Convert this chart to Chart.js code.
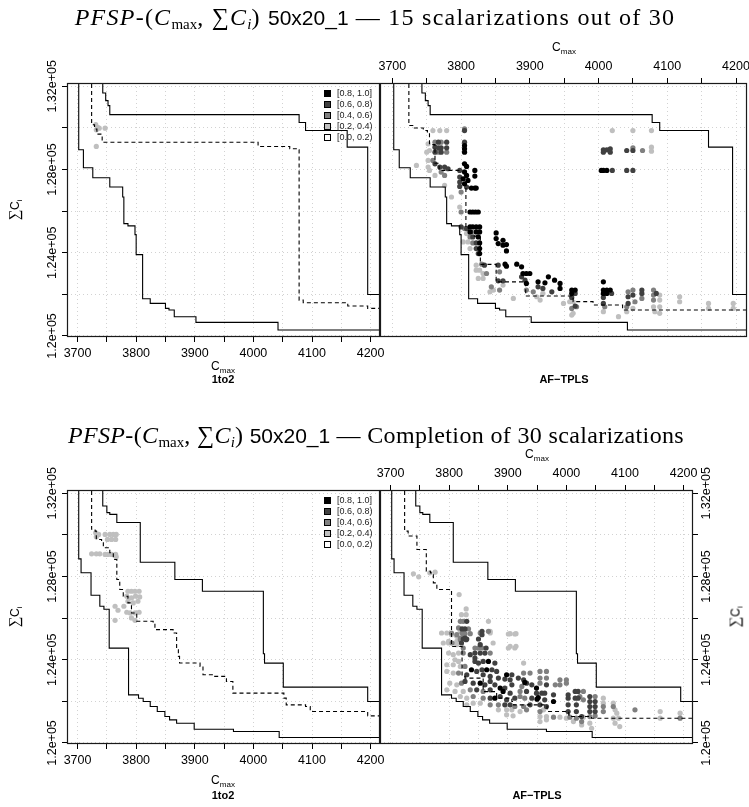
<!DOCTYPE html>
<html>
<head>
<meta charset="utf-8">
<script src="https://cdn.jsdelivr.net/npm/chart.js@4.4.1/dist/chart.umd.min.js"></script>
<style>
  html, body { margin: 0; padding: 0; background: #fff; }
  #page { position: relative; width: 749px; height: 807px; overflow: hidden; font-family: "Liberation Sans", Arial, sans-serif; color: #000; }
  #page canvas { position: absolute; left: 0; top: 0; }
  .lbl { position: absolute; white-space: nowrap; transform: translate(-50%, -50%); line-height: 1; }
  .title { font-family: "Liberation Serif", "DejaVu Serif", serif; font-size: 24px; }
  .title sub { font-size: 15px; vertical-align: -4px; letter-spacing: 0; }
  .title .tt { font-family: "Liberation Sans", sans-serif; font-size: 21px; letter-spacing: 0; }
  .axt { font-size: 12px; }
  .axt sub { font-size: 8px; vertical-align: -3px; }
  .axt .sig { font-family: "Liberation Serif", serif; font-size: 15px; }
  .alg { font-size: 11px; font-weight: bold; }
  .rot { transform: translate(-50%, -50%) rotate(-90deg); }
  .legend { position: absolute; font-size: 9px; color: #222; }
  .legend .row { height: 11px; line-height: 11px; display: flex; align-items: center; }
  .legend .sq { display: inline-block; width: 5px; height: 5px; border: 1px solid #000; margin-right: 6px; }
</style>
</head>
<body>
<div id="page">
  <canvas id="tl" width="749" height="807"></canvas>
  <canvas id="tr" width="749" height="807"></canvas>
  <canvas id="bl" width="749" height="807"></canvas>
  <canvas id="br" width="749" height="807"></canvas>

  <div class="lbl title" style="left:375px; top:18px; letter-spacing:1.25px"><i>PFSP</i>-(<i>C</i><sub>max</sub>, ∑<i>C<sub>i</sub></i>) <span class="tt">50x20_1</span> — 15 scalarizations out of 30</div>
  <div class="lbl title" style="left:376px; top:436px; letter-spacing:0.35px"><i>PFSP</i>-(<i>C</i><sub>max</sub>, ∑<i>C<sub>i</sub></i>) <span class="tt">50x20_1</span> — Completion of 30 scalarizations</div>

  <div class="lbl axt" style="left:564px; top:48px">C<sub>max</sub></div>
  <div class="lbl axt" style="left:223px; top:367px">C<sub>max</sub></div>
  <div class="lbl alg" style="left:223px; top:379px">1to2</div>
  <div class="lbl alg" style="left:564px; top:379px">AF−TPLS</div>
  <div class="lbl axt rot" style="left:15px; top:210px"><span class="sig">∑</span>C<sub>i</sub></div>

  <div class="lbl axt" style="left:537px; top:455px">C<sub>max</sub></div>
  <div class="lbl axt" style="left:223px; top:781px">C<sub>max</sub></div>
  <div class="lbl alg" style="left:223px; top:795px">1to2</div>
  <div class="lbl alg" style="left:537px; top:795px">AF−TPLS</div>
  <div class="lbl axt rot" style="left:15px; top:617px"><span class="sig">∑</span>C<sub>i</sub></div>
  <div class="lbl axt rot" style="left:736px; top:617px"><span class="sig">∑</span>C<sub>i</sub></div>

  <div class="legend" id="legTop" style="left:324px; top:88px"></div>
  <div class="legend" id="legBot" style="left:324px; top:495px"></div>
</div>
<script>
// ---- axes ----
const xMin = 3682, xMax = 4216;
const yMin = 119950, yMax = 132160;
const xTickVals = [3700, 3750, 3800, 3850, 3900, 3950, 4000, 4050, 4100, 4150, 4200];
const yTickVals = [120000, 122000, 124000, 126000, 128000, 130000, 132000];
const yLabelVals = [120000, 124000, 128000, 132000];
const yLabelText = ['1.2e+05', '1.24e+05', '1.28e+05', '1.32e+05'];

// ---- legend ----
const legendLabels = ['[0.8, 1.0]', '[0.6, 0.8)', '[0.4, 0.6)', '[0.2, 0.4)', '[0.0, 0.2)'];
const levelColors = ['#000000', '#404040', '#808080', '#BFBFBF', '#FFFFFF'];

// ---- attainment surfaces (corner points), top figure ----
const topBestX = [3702, 3710, 3726, 3755, 3777, 3779, 3786, 3798, 3800, 3811, 3824, 3850, 3856, 3865, 3902, 4042];
const topBestY = [128950, 128085, 127606, 127158, 126680, 125400, 125290, 124870, 123910, 121790, 121565, 121325, 121245, 120926, 120654, 120287];
const topWorstX = [3743, 3748, 3752, 3755, 4078, 4089, 4160, 4195];
const topWorstY = [131680, 131313, 131073, 130642, 130258, 129875, 129076, 121996];
const topLeftMedX = [3724, 3729, 3733, 3742, 4008, 4062, 4076, 4078, 4085, 4161, 4195];
const topLeftMedY = [130150, 129950, 129700, 129315, 129108, 129000, 128948, 121725, 121597, 121437, 121325];
const topRightMedX = [3724, 3732, 3745, 3751, 3754, 3762, 3768, 3807, 3817, 3828, 3851, 3894, 3963, 3992, 4035];
const topRightMedY = [130114, 130000, 129880, 129750, 129200, 128300, 127960, 125200, 124800, 123440, 122600, 121920, 121650, 121490, 121250];

// ---- attainment surfaces, bottom figure ----
const botBestX = [3702, 3706, 3723, 3738, 3745, 3754, 3787, 3804, 3812, 3824, 3836, 3849, 3857, 3869, 3899, 3966, 4044];
const botBestY = [128850, 128180, 127100, 126570, 126430, 124560, 122310, 122150, 121990, 121750, 121510, 121270, 121110, 120950, 120660, 120550, 120260];
const botWorstX = [3743, 3750, 3755, 3767, 3807, 3866, 3913, 4017, 4019, 4051, 4195];
const botWorstY = [131390, 131070, 130990, 130600, 128690, 127860, 127290, 124290, 123840, 122685, 121990];
const botLeftMedX = [3724, 3730, 3732, 3741, 3744, 3755, 3761, 3767, 3772, 3778, 3786, 3792, 3801, 3829, 3832, 3863, 3869, 3872, 3874, 3909, 3914, 3931, 3954, 3965, 4052, 4056, 4089, 4097, 4195];
const botLeftMedY = [130270, 130185, 129784, 129623, 129382, 129141, 128820, 127857, 127375, 127054, 126732, 126250, 125849, 125769, 125448, 125287, 124484, 124163, 123841, 123681, 123280, 123199, 122958, 122396, 122155, 121832, 121750, 121509, 121302];
const botRightMedX = [3724, 3730, 3745, 3761, 3768, 3773, 3779, 3804, 3822, 3827, 3858, 3881, 3907, 3910, 3967, 4004, 4007, 4043];
const botRightMedY = [130185, 129950, 129301, 128257, 128178, 127697, 127374, 124640, 123200, 123116, 122470, 122155, 121990, 121830, 121510, 121350, 121270, 121190];

// ---- points by level: L1 [0.8,1.0], L2 [0.6,0.8), L3 [0.4,0.6), L4 [0.2,0.4) ----
const topLeftL4 = [[3731,130160],[3734,130030],[3737,129990],[3732,129910],[3747,129990],[3732,129110]];

const topRightL1 = [[3805,129156],[3805,128996],[3805,128836],[3805,128277],[3808,128149],[3805,127877],[3808,127717],[3803,127558],[3810,127478],[3805,127318],[3815,127110],[3820,127110],[3822,127110],[3820,127957],[3820,127685],[3813,125960],[3817,125960],[3821,125960],[3825,125960],[3813,125240],[3817,125240],[3822,125240],[3827,125240],[3813,125001],[3822,125001],[3827,125001],[3825,124761],[3827,124473],[3827,124202],[3827,123962],[3851,124953],[3851,124681],[3854,124441],[3861,124601],[3861,124362],[3866,124393],[3866,124090],[3864,123451],[3866,123355],[3881,123451],[3888,123323],[3890,123003],[3895,123003],[3900,123003],[3895,122524],[3912,122604],[3922,122556],[3927,122843],[3936,122684],[3944,122524],[3944,122284],[3961,122204],[3966,122204],[3961,122044],[4007,122604],[4007,122204],[4012,122204],[4007,122044],[4012,122044],[4017,122204],[4004,127957],[4007,127957],[4012,127957]];
const topRightL2 = [[3805,129875],[3762,129076],[3762,128836],[3767,129315],[3767,129044],[3771,129044],[3771,128836],[3779,129315],[3779,129044],[3805,129315],[3762,128277],[3769,128117],[3776,128117],[3781,128037],[3798,127957],[3798,127637],[3798,127398],[3798,127190],[3808,127158],[3800,125240],[3808,125160],[3817,124761],[3822,124473],[3822,124202],[3825,123962],[3834,123403],[3854,123403],[3854,122652],[3861,122652],[3888,122843],[3893,122684],[3912,122364],[3919,122284],[3932,122124],[3966,122044],[3961,121853],[3966,121437],[4007,121853],[4019,122044],[4007,121565],[4043,121565],[4050,121965],[4043,121885],[4063,122204],[4063,122044],[4084,122044],[4007,128948],[4007,128836],[4012,128948],[4017,128996],[4017,128836],[4041,128916],[4050,128916],[4020,127957],[4041,127957],[4050,127957]];
const topRightL3 = [[3805,129955],[3762,129315],[3767,128836],[3771,129315],[3779,128836],[3759,128436],[3771,127877],[3776,127717],[3800,126918],[3800,125960],[3805,125160],[3813,124761],[3817,124473],[3830,123451],[3837,123003],[3856,123083],[3856,122204],[3844,122364],[3895,122204],[3905,122124],[3961,121325],[3968,121405],[4009,121405],[4041,121405],[4050,122204],[4053,121645],[4043,122124],[4063,121805],[4080,122204],[4080,121965],[4080,121725],[4050,129044],[4064,128916]];
const topRightL4 = [[3759,129875],[3769,129875],[3779,129875],[3752,129235],[3754,128916],[3750,128836],[3752,128436],[3735,128197],[3752,128117],[3762,127717],[3754,127957],[3776,127238],[3786,126679],[3798,126199],[3808,124921],[3803,124521],[3810,124521],[3813,124202],[3822,123403],[3822,123163],[3827,123163],[3832,123003],[3825,122764],[3832,122764],[3861,122444],[3847,122204],[3842,122124],[3910,121885],[3919,122044],[3915,121725],[3876,121805],[3958,121645],[3963,121645],[3949,121565],[3963,121086],[3961,121006],[4007,121165],[4029,120926],[4050,121325],[4041,121165],[4080,121405],[4082,121165],[4089,121965],[4089,121725],[4089,121405],[4089,121086],[4118,121885],[4118,121645],[4160,121565],[4160,121325],[4196,121565],[4196,121325],[4077,129076],[4077,128884],[4020,129875],[4050,129875],[4077,129875]];

const botLeftL4 = [[3731,130105],[3736,130025],[3732,129912],[3747,130025],[3755,130025],[3761,130025],[3766,130025],[3751,129784],[3758,129784],[3765,129784],[3724,129093],[3732,129093],[3738,129093],[3747,129061],[3752,129061],[3758,129061],[3765,129061],[3766,128949],[3786,127294],[3792,127294],[3798,127294],[3805,127294],[3784,127054],[3792,126973],[3799,127054],[3806,127022],[3786,126813],[3795,126732],[3803,126813],[3764,126572],[3769,126379],[3779,126572],[3784,126283],[3790,126250],[3798,126250],[3805,126283],[3764,125897],[3792,126010],[3798,125897]];

const botRightL1 = [[3867,123920],[3838,123519],[3864,123519],[3898,123278],[3929,122909],[3853,122876],[3887,122636],[3949,122636],[3892,122475],[3878,122154],[3952,122186],[3950,122106],[3978,121993]];
const botRightL2 = [[3830,125846],[3822,125480],[3827,125480],[3824,124998],[3830,124998],[3856,125365],[3856,125205],[3850,124998],[3829,124964],[3863,124564],[3827,125045],[3821,124804],[3853,124723],[3836,124242],[3844,124322],[3853,124322],[3861,124322],[3844,123920],[3850,123840],[3858,123920],[3878,123840],[3844,124081],[3847,123438],[3856,123519],[3873,123519],[3881,123438],[3907,123278],[3830,123278],[3858,123278],[3870,123198],[3884,123117],[3895,123069],[3904,123037],[3918,123117],[3927,123037],[3827,122957],[3841,122876],[3861,122796],[3870,122957],[3878,122796],[3895,122636],[3907,122796],[3932,122876],[3941,122796],[3966,122796],[3847,122555],[3870,122555],[3904,122395],[3932,122475],[3949,122395],[3958,122395],[3963,122395],[3978,122314],[4003,122314],[4015,122475],[4020,122475],[3870,122154],[3887,122234],[3898,122073],[3912,122154],[3941,122154],[3963,122073],[4003,122154],[4015,122154],[4020,122154],[3895,121833],[3904,121833],[3938,121833],[3955,121833],[3966,121752],[4003,121833],[4017,121833],[4003,121511],[4017,121511],[4040,122234],[4040,121993],[4040,121752],[4040,121511],[4049,121993],[4049,121752],[4049,121511],[4026,121270]];
const botRightL3 = [[3819,125846],[3824,125846],[3816,125528],[3833,125480],[3822,125287],[3827,125253],[3836,125253],[3867,125365],[3819,125046],[3805,124805],[3824,124564],[3850,124564],[3856,124564],[3804,125285],[3813,125205],[3824,125205],[3819,124964],[3853,125285],[3844,124563],[3824,124322],[3870,124322],[3827,123679],[3927,123358],[3938,123358],[3816,123358],[3955,123438],[3966,123438],[3955,123117],[3966,123117],[3989,123037],[4000,123037],[3821,122876],[3924,122716],[3955,122876],[3981,122796],[3989,122796],[4000,122876],[3836,122555],[3858,122475],[3921,122475],[4029,122475],[3841,122234],[3858,122154],[3921,122234],[3929,122154],[4029,122073],[3870,121833],[3884,121833],[3912,121752],[3927,121752],[3932,121592],[3955,121511],[3978,121238],[4006,121238],[4017,121190],[4023,122234],[4049,122234],[4040,121270],[4049,121302],[4063,121752],[4063,121511],[4080,121752],[4117,121591],[4194,121190],[4026,121029]];
const botRightL4 = [[3739,128130],[3748,127986],[3767,128178],[3776,128208],[3817,127133],[3829,126444],[3821,126169],[3829,126169],[3867,125846],[3804,125205],[3813,125125],[3870,125365],[3901,125237],[3912,125237],[3813,124882],[3799,124882],[3901,124564],[3912,124564],[3787,125285],[3796,125285],[3819,125366],[3799,124804],[3813,124723],[3790,124804],[3870,125285],[3904,125253],[3914,125253],[3904,124643],[3914,124643],[3875,124804],[3799,124322],[3807,124242],[3816,124322],[3810,124001],[3816,123920],[3927,123840],[3796,123760],[3807,123760],[3819,123679],[3796,123438],[3807,123358],[3801,122876],[3813,122796],[3796,122555],[3810,122475],[3824,122475],[3819,122234],[3830,122154],[3830,121833],[3841,121913],[3853,121913],[3884,121592],[3898,121592],[3907,121592],[3921,121511],[3961,121592],[3898,121351],[3909,121302],[3955,121270],[3966,121270],[3989,121238],[4000,121190],[4029,121238],[3955,121030],[3966,121110],[4012,121030],[4026,120869],[4040,120949],[4063,122154],[4063,121913],[4080,121913],[4083,121591],[4086,121431],[4080,121190],[4089,121190],[4083,120949],[4091,120788],[4160,121511],[4160,121190],[4194,121431],[4043,120708]];

// ---- helpers ----
const W = 749, H = 807;
Chart.defaults.font.family = "'Liberation Sans', Arial, sans-serif";

function surface(xs, ys) {
  const pts = xs.map((x, i) => ({ x: x, y: ys[i] }));
  return [{ x: xs[0], y: yMax + 5000 }].concat(pts, [{ x: xMax + 200, y: ys[ys.length - 1] }]);
}
function lineSet(xs, ys, dashed) {
  return {
    data: surface(xs, ys), showLine: true, stepped: 'before',
    borderColor: '#000', borderWidth: 1.1, borderDash: dashed ? [4, 3] : [],
    pointRadius: 0, fill: false
  };
}
function pointSet(arr, level) {
  return {
    data: arr.map(p => ({ x: p[0], y: p[1] })),
    showLine: false, pointRadius: 2.6, pointBorderWidth: 0,
    pointBackgroundColor: levelColors[level], backgroundColor: levelColors[level]
  };
}

const boxPlugin = {
  id: 'panelBox',
  afterDatasetsDraw(chart) {
    const a = chart.chartArea, ctx = chart.ctx;
    ctx.save();
    ctx.strokeStyle = '#1a1a1a';
    ctx.lineWidth = 1.2;
    ctx.strokeRect(a.left + 0.5, a.top + 0.5, a.right - a.left - 1, a.bottom - a.top - 1);
    ctx.restore();
  }
};
const yLabelPlugin = {
  id: 'yLabels',
  afterDraw(chart, args, opts) {
    if (!opts.side) return;
    const a = chart.chartArea, ctx = chart.ctx, sc = chart.scales.y;
    const x = opts.side === 'left' ? a.left - opts.offset : a.right + opts.offset;
    ctx.save();
    ctx.font = "12.5px 'Liberation Sans', Arial, sans-serif";
    ctx.fillStyle = '#000';
    ctx.textAlign = 'center';
    ctx.textBaseline = 'middle';
    yLabelVals.forEach((v, i) => {
      ctx.save();
      ctx.translate(x, sc.getPixelForValue(v));
      ctx.rotate(-Math.PI / 2);
      ctx.fillText(yLabelText[i], 0, 0);
      ctx.restore();
    });
    ctx.restore();
  }
};

function zeroPad(s) { s.paddingLeft = 0; s.paddingRight = 0; s.paddingTop = 0; s.paddingBottom = 0; }

function makePanel(id, box, xPos, yPos, yTicks, datasets) {
  const xH = 22, yW = yTicks ? 5 : 0;
  const pad = {
    left: box.l - (yPos === 'left' ? yW : 0),
    right: W - box.r - (yPos === 'right' ? yW : 0),
    top: box.t - (xPos === 'top' ? xH : 0),
    bottom: H - box.b - (xPos === 'bottom' ? xH : 0)
  };
  return new Chart(document.getElementById(id), {
    type: 'scatter',
    data: { datasets: datasets },
    plugins: [boxPlugin, yLabelPlugin],
    options: {
      responsive: false, animation: false, devicePixelRatio: 1, events: [],
      layout: { padding: pad, autoPadding: false },
      plugins: {
        legend: { display: false }, tooltip: { enabled: false },
        yLabels: yTicks ? { side: yPos, offset: 14 } : {}
      },
      scales: {
        x: {
          type: 'linear', position: xPos, min: xMin, max: xMax,
          afterBuildTicks: s => { s.ticks = xTickVals.map(v => ({ value: v })); },
          afterFit: s => { s.height = xH; zeroPad(s); },
          ticks: {
            autoSkip: false, maxRotation: 0, minRotation: 0, padding: 4, color: '#000',
            font: { size: 12.5 }, callback: v => (v % 100 === 0 ? String(v) : '')
          },
          grid: { color: '#d2d2d2', lineWidth: 1, drawTicks: true, tickLength: 5, tickColor: '#000', tickWidth: 1 },
          border: { display: false, dash: [1, 3] }
        },
        y: {
          type: 'linear', position: yPos, min: yMin, max: yMax,
          afterBuildTicks: s => { s.ticks = yTickVals.map(v => ({ value: v })); },
          afterFit: s => { s.width = yW; zeroPad(s); },
          ticks: { display: false },
          grid: { color: '#d2d2d2', lineWidth: 1, drawTicks: yTicks, tickLength: 5, tickColor: '#000', tickWidth: 1 },
          border: { display: false, dash: [1, 3] }
        }
      }
    }
  });
}

// top figure: 15 scalarizations out of 30
makePanel('tl', { l: 67, r: 380, t: 83, b: 337 }, 'bottom', 'left', true, [
  lineSet(topBestX, topBestY, false), lineSet(topLeftMedX, topLeftMedY, true), lineSet(topWorstX, topWorstY, false),
  pointSet(topLeftL4, 3)
]);
makePanel('tr', { l: 380, r: 747, t: 83, b: 337 }, 'top', 'right', false, [
  lineSet(topBestX, topBestY, false), lineSet(topRightMedX, topRightMedY, true), lineSet(topWorstX, topWorstY, false),
  pointSet(topRightL1, 0), pointSet(topRightL2, 1), pointSet(topRightL3, 2), pointSet(topRightL4, 3)
]);
// bottom figure: completion of 30 scalarizations
makePanel('bl', { l: 67, r: 380, t: 490, b: 744 }, 'bottom', 'left', true, [
  lineSet(botBestX, botBestY, false), lineSet(botLeftMedX, botLeftMedY, true), lineSet(botWorstX, botWorstY, false),
  pointSet(botLeftL4, 3)
]);
makePanel('br', { l: 380, r: 693, t: 490, b: 744 }, 'top', 'right', true, [
  lineSet(botBestX, botBestY, false), lineSet(botRightMedX, botRightMedY, true), lineSet(botWorstX, botWorstY, false),
  pointSet(botRightL1, 0), pointSet(botRightL2, 1), pointSet(botRightL3, 2), pointSet(botRightL4, 3)
]);

// legends inside the left panels
['legTop', 'legBot'].forEach(id => {
  const el = document.getElementById(id);
  legendLabels.forEach((t, i) => {
    const row = document.createElement('div');
    row.className = 'row';
    row.innerHTML = '<span class="sq" style="background:' + levelColors[i] + '"></span>' + t;
    el.appendChild(row);
  });
});
</script>
</body>
</html>
